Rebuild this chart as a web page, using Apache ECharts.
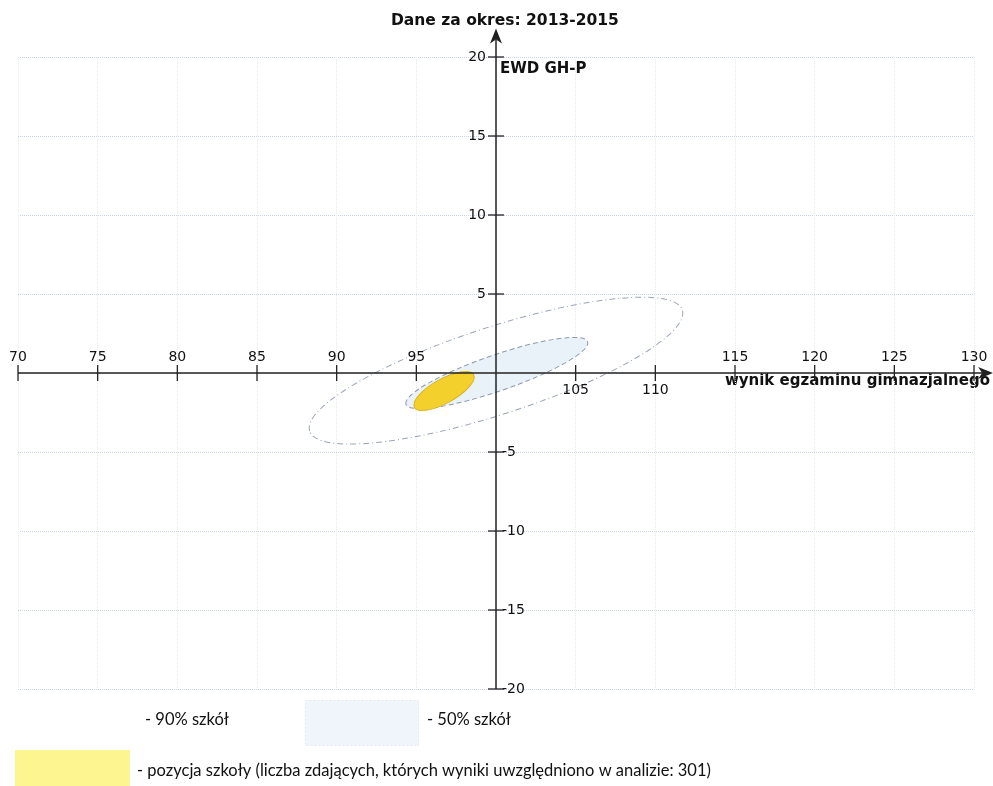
<!DOCTYPE html>
<html>
<head>
<meta charset="utf-8">
<script src="https://cdn.jsdelivr.net/npm/echarts@6/dist/echarts.min.js"></script>
<style>
html,body{margin:0;padding:0;background:#fff;}
#chart{width:993px;height:786px;}
</style>
</head>
<body>
<div id="chart"></div>
<script>
// ---- data ----
const xTicks = [70, 75, 80, 85, 90, 95, 100, 105, 110, 115, 120, 125, 130];
const xTicksLabelBelow = [105, 110];
const yTicks = [-20, -15, -10, -5, 0, 5, 10, 15, 20];
// ellipse: [centerX, centerY, semiMajor (x units), semiMinor (x units), angle deg]
const ellipse90 = [100.0, 0.15, 12.3, 2.74, 18];
const ellipse50 = [100.05, 0.0, 6.03, 1.13, 19];
const schoolEllipse = [96.74, -1.14, 2.12, 0.76, 29];
// axis lines: [x0, y0, x1, y1] (data units), arrow at end
const axisLines = [[70, 0, 131.2, 0], [100, -20, 100, 21.8]];
const titleText = 'Dane za okres: 2013-2015';
const yName = 'EWD GH-P';
const xName = 'wynik egzaminu gimnazjalnego';
const legend90 = '- 90% szkół';
const legend50 = '- 50% szkół';
const legendSchool = '- pozycja szkoły (liczba zdających, których wyniki uwzględniono w analizie: 301)';

const axisFont = '14px "DejaVu Sans", sans-serif';
const boldFont = 'bold 15px "DejaVu Sans", sans-serif';
const legendFont = '16.5px Lato, "Open Sans", sans-serif';

function ellipseRender(style) {
  return function (params, api) {
    const c = api.coord([api.value(0), api.value(1)]);
    const rx = api.size([api.value(2), 0])[0];
    const ry = api.size([api.value(3), 0])[0];
    return {
      type: 'ellipse',
      x: c[0], y: c[1],
      rotation: api.value(4) * Math.PI / 180,
      shape: { cx: 0, cy: 0, rx: rx, ry: ry },
      style: style
    };
  };
}

function axisRender(params, api) {
  const p0 = api.coord([api.value(0), api.value(1)]);
  const p1 = api.coord([api.value(2), api.value(3)]);
  const dx = p1[0] - p0[0], dy = p1[1] - p0[1];
  const len = Math.hypot(dx, dy);
  const ux = dx / len, uy = dy / len, nx = -uy, ny = ux;
  const L = 15, W = 6, back = 4;
  const bx = p1[0] - ux * L, by = p1[1] - uy * L;
  const notch = [p1[0] - ux * (L - back), p1[1] - uy * (L - back)];
  return {
    type: 'group',
    children: [
      { type: 'line', shape: { x1: p0[0], y1: p0[1], x2: notch[0], y2: notch[1] },
        style: { stroke: '#222', lineWidth: 1.5 } },
      { type: 'polygon', shape: { points: [p1, [bx + nx * W, by + ny * W], notch, [bx - nx * W, by - ny * W]] },
        style: { fill: '#222' } }
    ]
  };
}

function xTickRender(params, api) {
  const v = api.value(0);
  if (v === 100) return null;
  const p = api.coord([v, api.value(1)]);
  const below = xTicksLabelBelow.indexOf(v) >= 0;
  return {
    type: 'group',
    children: [
      { type: 'line', shape: { x1: p[0], y1: p[1] - 8, x2: p[0], y2: p[1] + 8 },
        style: { stroke: '#222', lineWidth: 1.3 } },
      { type: 'text', x: p[0], y: below ? p[1] + 17 : p[1] - 16,
        style: { text: String(v), font: axisFont, fill: '#111',
          align: 'center', verticalAlign: 'middle', textAlign: 'center', textVerticalAlign: 'middle' } }
    ]
  };
}

function yTickRender(params, api) {
  const v = api.value(1);
  if (v === 0) return null;
  const p = api.coord([api.value(0), v]);
  const left = v > 0;
  return {
    type: 'group',
    children: [
      { type: 'line', shape: { x1: p[0] - 8, y1: p[1], x2: p[0] + 8, y2: p[1] },
        style: { stroke: '#222', lineWidth: 1.3 } },
      { type: 'text', x: left ? p[0] - 10 : p[0] + 6, y: p[1],
        style: { text: String(v), font: axisFont, fill: '#111',
          align: left ? 'right' : 'left', verticalAlign: 'middle',
          textAlign: left ? 'right' : 'left', textVerticalAlign: 'middle' } }
    ]
  };
}

const chart = echarts.init(document.getElementById('chart'), null, { renderer: 'canvas' });
chart.setOption({
  backgroundColor: '#ffffff',
  animation: false,
  title: {
    text: titleText, left: 386, top: 8,
    textStyle: { fontFamily: 'DejaVu Sans', fontWeight: 'bold', fontSize: 15.5, color: '#111' }
  },
  grid: { left: 18, right: 19, top: 57, bottom: 97 },
  xAxis: {
    type: 'value', min: 70, max: 130, interval: 5,
    axisLine: { show: false }, axisTick: { show: false }, axisLabel: { show: false },
    splitLine: { show: true, lineStyle: { color: '#e6ebf2', type: 'dotted', width: 1 } }
  },
  yAxis: {
    type: 'value', min: -20, max: 20, interval: 5,
    axisLine: { show: false }, axisTick: { show: false }, axisLabel: { show: false },
    splitLine: { show: true, lineStyle: { color: '#c9d3e2', type: 'dotted', width: 1 } }
  },
  series: [
    { type: 'custom', name: '90% szkół', clip: false, z: 2,
      renderItem: ellipseRender({ fill: 'rgba(0,0,0,0)', stroke: '#9aa5b5', lineWidth: 1, lineDash: [6, 3, 1, 3] }),
      data: [ellipse90] },
    { type: 'custom', name: '50% szkół', clip: false, z: 3,
      renderItem: ellipseRender({ fill: '#e9f1f9', stroke: '#8f9aaa', lineWidth: 1, lineDash: [5, 3] }),
      data: [ellipse50] },
    { type: 'custom', name: 'pozycja szkoły', clip: false, z: 4,
      renderItem: ellipseRender({ fill: '#f4d02c', stroke: '#d9b520', lineWidth: 1 }),
      data: [schoolEllipse] },
    { type: 'custom', name: 'axes', clip: false, z: 10,
      renderItem: axisRender, data: axisLines },
    { type: 'custom', name: 'xticks', clip: false, z: 11,
      renderItem: xTickRender, data: xTicks.map(v => [v, 0]) },
    { type: 'custom', name: 'yticks', clip: false, z: 11,
      renderItem: yTickRender, data: yTicks.map(v => [100, v]) }
  ],
  graphic: [
    { type: 'text', left: 500, top: 62, style: { text: yName, font: boldFont, fill: '#111' } },
    { type: 'text', right: 3, top: 374, style: { text: xName, font: boldFont, fill: '#111' } },
    { type: 'text', left: 145, top: 711, style: { text: legend90, font: legendFont, fill: '#111' } },
    { type: 'rect', left: 305, top: 700, shape: { width: 113, height: 45 },
      style: { fill: '#f0f5fb', stroke: '#e3eaf3', lineWidth: 1, lineDash: [2, 2] } },
    { type: 'text', left: 427, top: 711, style: { text: legend50, font: legendFont, fill: '#111' } },
    { type: 'rect', left: 15, top: 750, shape: { width: 115, height: 36 },
      style: { fill: '#fcf590' } },
    { type: 'text', left: 137, top: 762, style: { text: legendSchool, font: legendFont, fill: '#111' } }
  ]
});
</script>
</body>
</html>
